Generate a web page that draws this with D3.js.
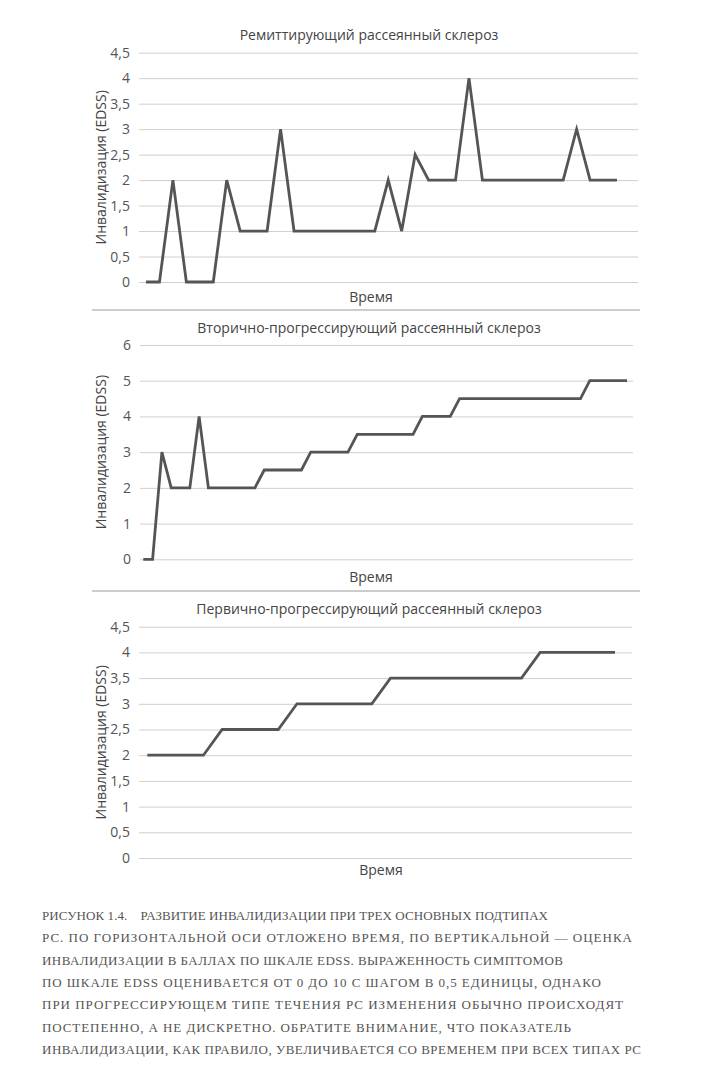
<!DOCTYPE html>
<html>
<head>
<meta charset="utf-8">
<script src="https://cdn.jsdelivr.net/npm/d3@7"></script>
<style>
  body { margin: 0; background: #fff; }
  svg { display: block; }
</style>
</head>
<body>
<div id="chart"></div>
<script>
// ремиттирующий: значения EDSS по отсчётам времени
var rrValues = [0, 0, 2, 0, 0, 0, 2, 1, 1, 1, 3, 1, 1, 1, 1, 1, 1, 1, 2, 1,
                2.5, 2, 2, 2, 4, 2, 2, 2, 2, 2, 2, 2, 3, 2, 2, 2];
// вторично-прогрессирующий
var spValues = [0, 0, 3, 2, 2, 2, 4, 2, 2, 2, 2, 2, 2,
                2.5, 2.5, 2.5, 2.5, 2.5,
                3, 3, 3, 3, 3,
                3.5, 3.5, 3.5, 3.5, 3.5, 3.5, 3.5,
                4, 4, 4, 4,
                4.5, 4.5, 4.5, 4.5, 4.5, 4.5, 4.5, 4.5, 4.5, 4.5, 4.5, 4.5, 4.5, 4.5,
                5, 5, 5, 5, 5];
// первично-прогрессирующий
var ppValues = [2, 2, 2, 2, 2.5, 2.5, 2.5, 2.5, 3, 3, 3, 3, 3,
                3.5, 3.5, 3.5, 3.5, 3.5, 3.5, 3.5, 3.5, 4, 4, 4, 4, 4];

var titles = ["Ремиттирующий рассеянный склероз",
              "Вторично-прогрессирующий рассеянный склероз",
              "Первично-прогрессирующий рассеянный склероз"];
var ticksHalf = [0, 0.5, 1, 1.5, 2, 2.5, 3, 3.5, 4, 4.5];
var ticksWhole = [0, 1, 2, 3, 4, 5, 6];
var xLabel = "Время";
var yLabel = "Инвалидизация (EDSS)";

var caption = [
  "РИСУНОК 1.4.    РАЗВИТИЕ ИНВАЛИДИЗАЦИИ ПРИ ТРЕХ ОСНОВНЫХ ПОДТИПАХ",
  "РС. ПО ГОРИЗОНТАЛЬНОЙ ОСИ ОТЛОЖЕНО ВРЕМЯ, ПО ВЕРТИКАЛЬНОЙ — ОЦЕНКА",
  "ИНВАЛИДИЗАЦИИ В БАЛЛАХ ПО ШКАЛЕ EDSS. ВЫРАЖЕННОСТЬ СИМПТОМОВ",
  "ПО ШКАЛЕ EDSS ОЦЕНИВАЕТСЯ ОТ 0 ДО 10 С ШАГОМ В 0,5 ЕДИНИЦЫ, ОДНАКО",
  "ПРИ ПРОГРЕССИРУЮЩЕМ ТИПЕ ТЕЧЕНИЯ РС ИЗМЕНЕНИЯ ОБЫЧНО ПРОИСХОДЯТ",
  "ПОСТЕПЕННО, А НЕ ДИСКРЕТНО. ОБРАТИТЕ ВНИМАНИЕ, ЧТО ПОКАЗАТЕЛЬ",
  "ИНВАЛИДИЗАЦИИ, КАК ПРАВИЛО, УВЕЛИЧИВАЕТСЯ СО ВРЕМЕНЕМ ПРИ ВСЕХ ТИПАХ РС"
];

// раскладка панелей (пиксели)
var panels = [
  {values: rrValues, ticks: ticksHalf, max: 4.5, yTop: 52.7, yBot: 282,
   x0: 146, x1: 617, gl: 139, gr: 638, titleY: 40, timeY: 302, timeX: 371},
  {values: spValues, ticks: ticksWhole, max: 6, yTop: 345, yBot: 559.3,
   x0: 143.3, x1: 627, gl: 140, gr: 633, titleY: 333, timeY: 582, timeX: 371},
  {values: ppValues, ticks: ticksHalf, max: 4.5, yTop: 626.7, yBot: 858,
   x0: 147.3, x1: 615, gl: 139, gr: 632, titleY: 614, timeY: 875, timeX: 381}
];
var captionWidths = [506, 590, 521, 559, 581, 529, 599];

var width = 707;
var height = 1080;
var font = "'Open Sans', 'Noto Sans', sans-serif";

var svg = d3.select("#chart").append("svg")
    .attr("width", width)
    .attr("height", height);

svg.append("rect")
    .attr("width", width)
    .attr("height", height)
    .attr("fill", "#fff");

function fmt(v) {
    return String(v).replace(".", ",");
}

function drawPanel(p, k) {
    var g = svg.append("g");

    var x = d3.scaleLinear()
        .domain([0, p.values.length - 1])
        .range([p.x0, p.x1]);
    var y = d3.scaleLinear()
        .domain([0, p.max])
        .range([p.yBot, p.yTop]);

    // сетка + подписи делений
    var axis = d3.axisLeft(y)
        .tickValues(p.ticks)
        .tickFormat(fmt)
        .tickSizeInner(-(p.gr - p.gl))
        .tickSizeOuter(0)
        .tickPadding(9);

    var ax = g.append("g")
        .attr("transform", "translate(" + p.gl + ",0)")
        .call(axis);
    ax.select(".domain").remove();
    ax.selectAll(".tick line")
        .attr("stroke", "#cfcfcf")
        .attr("stroke-width", 1);
    ax.selectAll(".tick text")
        .attr("fill", "#555")
        .style("font-family", font)
        .style("font-size", "14px");

    var line = d3.line()
        .x(function(d, i) { return x(i); })
        .y(function(d) { return y(d); });

    g.append("path")
        .datum(p.values)
        .attr("d", line)
        .attr("fill", "none")
        .attr("stroke", "#555")
        .attr("stroke-width", 2.8)
        .attr("stroke-linejoin", "miter");

    g.append("text")
        .text(titles[k])
        .attr("x", 369)
        .attr("y", p.titleY)
        .attr("text-anchor", "middle")
        .attr("fill", "#444")
        .style("font-family", font)
        .style("font-size", "14px");

    g.append("text")
        .text(xLabel)
        .attr("x", p.timeX)
        .attr("y", p.timeY)
        .attr("text-anchor", "middle")
        .attr("fill", "#444")
        .style("font-family", font)
        .style("font-size", "14px");

    var cy = (p.yTop + p.yBot) / 2;
    g.append("text")
        .text(yLabel)
        .attr("transform", "translate(106," + cy + ") rotate(-90)")
        .attr("text-anchor", "middle")
        .attr("fill", "#444")
        .style("font-family", font)
        .style("font-size", "14px");
}

panels.forEach(drawPanel);

// разделители между диаграммами
[310, 591].forEach(function(yy) {
    svg.append("line")
        .attr("x1", 92).attr("x2", 640)
        .attr("y1", yy).attr("y2", yy)
        .attr("stroke", "#9a9a9a")
        .attr("stroke-width", 1);
});

svg.selectAll(".caption")
    .data(caption)
    .enter()
    .append("text")
    .attr("class", "caption")
    .text(function(d) { return d; })
    .attr("x", 42)
    .attr("y", function(d, i) { return 920 + i * 22.3; })
    .attr("textLength", function(d, i) { return captionWidths[i]; })
    .attr("lengthAdjust", "spacing")
    .attr("fill", "#555")
    .style("white-space", "pre")
    .style("font-family", "'Liberation Serif', 'DejaVu Serif', serif")
    .style("font-size", "13px");
</script>
</body>
</html>
